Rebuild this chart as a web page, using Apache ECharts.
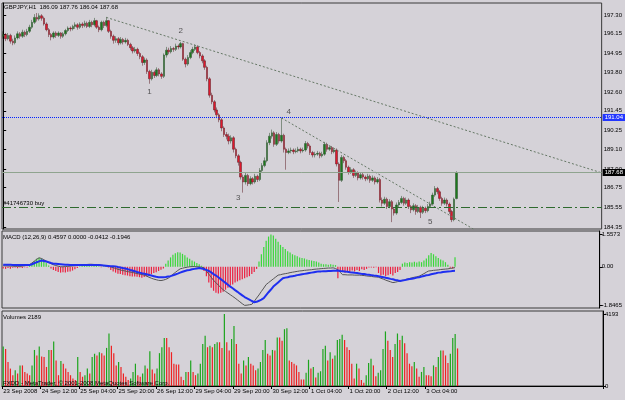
<!DOCTYPE html>
<html>
<head>
<meta charset="utf-8">
<script src="https://cdn.jsdelivr.net/npm/echarts@6/dist/echarts.min.js"></script>
<style>
  html, body { margin: 0; padding: 0; background: #d5d2d8; }
  #chart { width: 625px; height: 400px; }
</style>
</head>
<body>
<div id="chart"></div>
<script>
// GBPJPY H1, 23 Sep 2008 20:00 .. 3 Oct 2008 17:00 (190 bars)
const opens = [
  196.00,196.10,195.85,196.05,195.70,195.60,195.90,196.15,196.00,196.25,
  196.10,196.30,196.55,196.85,197.15,197.05,197.25,197.10,196.75,196.40,
  196.10,195.95,196.20,196.05,196.20,196.00,196.15,196.35,196.50,196.45,
  196.60,196.70,196.55,196.75,196.65,196.80,196.60,196.85,196.70,196.95,
  196.55,196.40,196.85,196.65,196.95,196.30,196.00,195.75,195.85,195.60,
  195.80,195.65,195.75,195.50,195.30,195.10,195.20,194.95,194.75,194.40,
  194.55,193.85,193.40,193.80,193.60,193.95,193.70,193.55,194.85,195.15,
  195.05,195.25,195.20,195.40,195.35,195.55,194.60,194.30,194.70,195.00,
  195.20,195.35,195.00,194.80,194.50,194.10,193.40,192.40,192.00,191.50,
  191.20,190.90,190.40,190.00,189.90,189.60,189.80,189.10,188.70,188.30,
  187.40,187.10,187.50,187.00,187.30,187.10,187.45,187.25,187.80,188.10,
  188.40,189.50,189.90,190.10,189.40,190.00,189.60,189.95,189.10,188.90,
  189.00,189.05,188.95,189.00,189.10,189.00,189.05,189.45,189.30,188.90,
  188.75,188.80,188.85,188.70,188.80,189.40,189.10,189.20,188.95,189.05,
  188.20,187.20,188.60,188.40,188.00,187.70,187.85,187.50,187.65,187.35,
  187.55,187.40,187.30,187.45,187.20,187.35,187.10,187.25,186.00,185.80,
  186.05,185.60,185.90,185.45,185.20,185.70,185.85,186.10,185.80,186.00,
  185.60,185.40,185.65,185.30,185.55,185.25,185.50,185.35,185.60,185.75,
  186.30,186.70,186.50,186.10,185.80,186.00,185.75,185.30,184.80,186.09
];
const closes = [
  196.10,195.85,196.05,195.70,195.60,195.90,196.15,196.00,196.25,196.10,
  196.30,196.55,196.85,197.15,197.05,197.25,197.10,196.75,196.40,196.10,
  195.95,196.20,196.05,196.20,196.00,196.15,196.35,196.50,196.45,196.60,
  196.70,196.55,196.75,196.65,196.80,196.60,196.85,196.70,196.95,196.55,
  196.40,196.85,196.65,196.95,196.30,196.00,195.75,195.85,195.60,195.80,
  195.65,195.75,195.50,195.30,195.10,195.20,194.95,194.75,194.40,194.55,
  193.85,193.40,193.80,193.60,193.95,193.70,193.55,194.85,195.15,195.05,
  195.25,195.20,195.40,195.35,195.55,194.60,194.30,194.70,195.00,195.20,
  195.35,195.00,194.80,194.50,194.10,193.40,192.40,192.00,191.50,191.20,
  190.90,190.40,190.00,189.90,189.60,189.80,189.10,188.70,188.30,187.40,
  187.10,187.50,187.00,187.30,187.10,187.45,187.25,187.80,188.10,188.40,
  189.50,189.90,190.10,189.40,190.00,189.60,189.95,189.10,188.90,189.00,
  189.05,188.95,189.00,189.10,189.00,189.05,189.45,189.30,188.90,188.75,
  188.80,188.85,188.70,188.80,189.40,189.10,189.20,188.95,189.05,188.20,
  187.20,188.60,188.40,188.00,187.70,187.85,187.50,187.65,187.35,187.55,
  187.40,187.30,187.45,187.20,187.35,187.10,187.25,186.00,185.80,186.05,
  185.60,185.90,185.45,185.20,185.70,185.85,186.10,185.80,186.00,185.60,
  185.40,185.65,185.30,185.55,185.25,185.50,185.35,185.60,185.75,186.30,
  186.70,186.50,186.10,185.80,186.00,185.75,185.30,184.80,186.05,187.68
];
const lows = [
  195.85,195.70,195.75,195.55,195.45,195.50,195.80,195.85,195.90,195.95,
  196.00,196.20,196.45,196.75,196.90,196.95,196.95,196.65,196.30,195.95,
  195.75,195.85,195.90,195.95,195.85,195.90,196.05,196.25,196.30,196.35,
  196.45,196.40,196.45,196.50,196.55,196.50,196.50,196.55,196.60,196.45,
  196.25,196.30,196.50,196.55,196.20,195.85,195.55,195.60,195.45,195.50,
  195.50,195.55,195.40,195.15,194.95,195.00,194.80,194.60,194.20,194.25,
  193.70,193.10,193.30,193.45,193.50,193.55,193.40,193.45,194.70,194.90,
  194.95,195.05,195.10,195.20,195.25,194.50,194.10,194.20,194.60,194.90,
  195.10,194.90,194.65,194.35,193.95,193.25,192.25,191.85,191.35,191.00,
  190.75,190.20,189.85,189.70,189.40,189.45,188.90,188.55,188.10,187.25,
  186.45,186.95,186.85,186.90,186.95,187.00,187.10,187.15,187.70,188.00,
  188.30,189.35,189.75,189.25,189.30,189.45,189.50,188.90,187.85,188.80,
  188.85,188.80,188.85,188.90,188.85,188.90,188.95,189.15,188.75,188.60,
  188.60,188.70,188.55,188.60,188.70,188.95,189.00,188.80,188.85,188.05,
  185.88,187.10,188.25,187.85,187.55,187.60,187.35,187.40,187.20,187.25,
  187.25,187.15,187.20,187.05,187.10,186.95,187.00,185.85,185.60,185.70,
  185.45,185.50,184.65,185.05,185.10,185.55,185.75,185.65,185.70,185.45,
  185.20,185.30,185.10,185.20,184.90,185.15,185.20,185.25,185.50,185.65,
  186.20,186.35,185.95,185.65,185.70,185.60,185.15,184.65,184.70,186.04
];
const highs = [
  196.30,196.20,196.20,196.15,195.85,196.05,196.30,196.25,196.40,196.35,
  196.45,196.70,197.00,197.35,197.42,197.40,197.35,197.20,196.85,196.50,
  196.20,196.30,196.30,196.30,196.25,196.25,196.45,196.60,196.60,196.70,
  196.85,196.80,196.85,196.85,196.95,196.90,197.00,196.95,197.12,197.00,
  196.65,196.95,196.95,197.18,197.00,196.40,196.10,196.00,195.95,195.95,
  195.90,195.90,195.85,195.60,195.40,195.35,195.30,195.05,194.85,194.70,
  194.65,193.95,193.95,193.90,194.10,194.05,193.80,194.95,195.35,195.30,
  195.40,195.35,195.55,195.50,195.65,195.60,194.70,194.85,195.15,195.35,
  195.50,195.45,195.10,194.90,194.60,194.20,193.50,192.55,192.10,191.65,
  191.30,191.00,190.50,190.15,190.05,189.95,189.90,189.20,188.80,188.40,
  187.55,187.65,187.60,187.45,187.40,187.60,187.55,187.95,188.25,188.60,
  189.65,190.10,190.30,190.20,190.15,190.10,191.01,190.05,189.20,189.15,
  189.20,189.15,189.15,189.25,189.20,189.20,189.60,189.55,189.40,189.00,
  188.95,189.00,188.95,188.95,189.55,189.50,189.35,189.30,189.20,189.15,
  188.30,188.75,188.70,188.50,188.10,188.00,187.95,187.80,187.75,187.70,
  187.65,187.50,187.60,187.55,187.50,187.45,187.40,187.35,186.15,186.20,
  186.15,186.05,186.00,185.55,185.85,186.00,186.25,186.20,186.15,186.10,
  185.70,185.80,185.75,185.70,185.65,185.65,185.60,185.75,185.90,186.45,
  186.85,186.80,186.60,186.20,186.15,186.10,185.85,185.40,186.15,187.76
];

// MACD (12,26,9) panel
const macdHist = [
  -0.08,-0.10,-0.06,-0.09,-0.05,-0.04,-0.07,-0.03,-0.06,-0.02,
  -0.04,0.05,0.15,0.28,0.38,0.43,0.40,0.30,0.18,0.06,
  -0.08,-0.15,-0.20,-0.25,-0.28,-0.26,-0.27,-0.24,-0.22,-0.18,
  -0.12,-0.06,0.03,0.05,0.04,0.06,0.05,0.03,0.04,0.05,
  0.02,-0.02,0.03,0.02,-0.04,-0.15,-0.22,-0.28,-0.33,-0.35,
  -0.38,-0.40,-0.42,-0.45,-0.47,-0.46,-0.48,-0.50,-0.52,-0.49,
  -0.45,-0.40,-0.35,-0.30,-0.26,-0.20,-0.14,-0.08,0.15,0.30,
  0.45,0.58,0.65,0.70,0.68,0.62,0.55,0.45,0.38,0.30,
  0.25,0.18,0.12,0.05,-0.20,-0.45,-0.75,-1.00,-1.15,-1.25,
  -1.28,-1.25,-1.20,-1.10,-1.00,-0.90,-0.85,-0.75,-0.70,-0.65,
  -0.60,-0.55,-0.50,-0.45,-0.35,-0.25,-0.10,0.25,0.60,0.95,
  1.25,1.45,1.55,1.50,1.35,1.20,1.05,0.95,0.85,0.75,
  0.68,0.60,0.55,0.50,0.45,0.42,0.40,0.35,0.32,0.30,
  0.28,0.25,0.20,0.15,0.12,0.12,0.10,0.12,0.10,0.08,
  -0.55,-0.25,-0.22,-0.28,-0.20,-0.25,-0.18,-0.22,-0.15,-0.20,
  -0.12,-0.15,-0.10,-0.04,-0.03,-0.05,-0.02,-0.30,-0.42,-0.38,
  -0.45,-0.40,-0.35,-0.42,-0.30,-0.25,-0.15,0.15,0.20,0.18,
  0.22,0.20,0.24,0.20,0.25,0.22,0.30,0.40,0.55,0.66,
  0.60,0.50,0.42,0.35,0.30,0.22,0.10,-0.05,-0.08,0.4597
];
const macdMain = [
  0.05,0.04,0.04,0.03,0.03,0.02,0.02,0.02,0.03,0.05,
  0.07,0.10,0.18,0.27,0.36,0.43,0.40,0.34,0.27,0.21,
  0.15,0.10,0.06,0.03,0.00,0.00,0.01,0.02,0.03,0.04,
  0.05,0.06,0.08,0.09,0.10,0.11,0.12,0.12,0.11,0.11,
  0.10,0.08,0.06,0.04,0.02,0.00,-0.04,-0.08,-0.12,-0.15,
  -0.18,-0.20,-0.23,-0.25,-0.27,-0.30,-0.32,-0.35,-0.37,-0.40,
  -0.45,-0.50,-0.55,-0.59,-0.62,-0.65,-0.66,-0.64,-0.60,-0.55,
  -0.45,-0.36,-0.27,-0.18,-0.10,-0.07,-0.04,-0.02,0.00,0.01,
  0.01,0.00,0.00,-0.02,-0.05,-0.20,-0.35,-0.50,-0.65,-0.76,
  -0.88,-0.99,-1.10,-1.18,-1.26,-1.34,-1.42,-1.50,-1.59,-1.68,
  -1.77,-1.85,-1.84,-1.82,-1.80,-1.66,-1.50,-1.35,-1.18,-1.02,
  -0.85,-0.76,-0.67,-0.58,-0.49,-0.40,-0.38,-0.35,-0.33,-0.31,
  -0.28,-0.26,-0.24,-0.22,-0.20,-0.19,-0.17,-0.16,-0.15,-0.14,
  -0.12,-0.11,-0.10,-0.09,-0.08,-0.07,-0.06,-0.06,-0.05,-0.08,
  -0.15,-0.27,-0.38,-0.38,-0.39,-0.39,-0.39,-0.40,-0.40,-0.40,
  -0.41,-0.42,-0.44,-0.45,-0.46,-0.48,-0.49,-0.50,-0.55,-0.59,
  -0.64,-0.68,-0.72,-0.76,-0.74,-0.71,-0.68,-0.65,-0.62,-0.59,
  -0.56,-0.53,-0.50,-0.48,-0.45,-0.39,-0.33,-0.26,-0.20,-0.19,
  -0.17,-0.16,-0.15,-0.13,-0.12,-0.11,-0.10,-0.08,-0.06,-0.0412
];
const macdSignal = [
  0.10,0.10,0.10,0.10,0.09,0.09,0.09,0.09,0.08,0.08,
  0.08,0.08,0.12,0.17,0.22,0.26,0.30,0.28,0.25,0.22,
  0.18,0.15,0.14,0.13,0.12,0.11,0.10,0.10,0.09,0.09,
  0.08,0.08,0.08,0.08,0.08,0.08,0.08,0.08,0.08,0.08,
  0.08,0.07,0.06,0.05,0.04,0.03,0.03,0.02,-0.01,-0.03,
  -0.06,-0.08,-0.11,-0.15,-0.18,-0.21,-0.25,-0.28,-0.31,-0.33,
  -0.36,-0.39,-0.42,-0.45,-0.48,-0.50,-0.50,-0.50,-0.49,-0.47,
  -0.45,-0.41,-0.37,-0.33,-0.28,-0.24,-0.20,-0.17,-0.15,-0.12,
  -0.10,-0.08,-0.06,-0.08,-0.11,-0.15,-0.20,-0.27,-0.35,-0.42,
  -0.50,-0.59,-0.68,-0.77,-0.86,-0.95,-1.03,-1.12,-1.20,-1.29,
  -1.37,-1.45,-1.51,-1.57,-1.64,-1.70,-1.68,-1.63,-1.57,-1.50,
  -1.36,-1.22,-1.09,-0.95,-0.85,-0.75,-0.65,-0.55,-0.52,-0.50,
  -0.47,-0.45,-0.43,-0.40,-0.38,-0.36,-0.34,-0.32,-0.30,-0.28,
  -0.26,-0.24,-0.22,-0.22,-0.21,-0.21,-0.20,-0.20,-0.19,-0.19,
  -0.18,-0.20,-0.21,-0.23,-0.24,-0.26,-0.27,-0.29,-0.30,-0.32,
  -0.34,-0.35,-0.37,-0.38,-0.40,-0.42,-0.43,-0.45,-0.48,-0.50,
  -0.53,-0.55,-0.58,-0.60,-0.63,-0.65,-0.68,-0.66,-0.64,-0.61,
  -0.59,-0.57,-0.55,-0.52,-0.50,-0.47,-0.44,-0.41,-0.39,-0.36,
  -0.33,-0.31,-0.28,-0.27,-0.25,-0.24,-0.23,-0.22,-0.20,-0.1946
];

// tick volumes
const volumes = [
  2300,2160,1400,1015,630,920,730,1200,1200,820,
  730,630,1200,2100,1780,2300,1720,1690,1110,2100,
  2100,2590,1490,630,1450,1300,1015,820,630,440,
  345,1690,820,540,630,1015,730,1690,1880,1780,
  1970,1915,1780,2220,3060,2350,1915,1200,1400,1110,
  730,540,345,440,820,1300,630,540,730,1200,
  1015,2030,960,730,1015,1915,2260,2800,2800,2260,
  1970,1300,1260,1260,540,345,820,820,1490,820,
  630,730,1300,2450,2930,2260,2350,2260,2450,2550,
  2550,2220,4193,2550,2070,2740,3500,2450,1300,730,
  1490,1200,1690,1300,1200,920,1015,1400,2100,2680,
  1880,1780,2100,2070,2830,2830,2640,3310,3370,1490,
  1400,1300,1200,820,380,380,770,1530,1015,1110,
  500,770,860,2160,2350,1490,1970,1590,1780,2680,
  2740,2990,2680,2260,2100,1300,440,1300,1015,345,
  190,630,1340,1590,1200,575,770,920,2160,3180,
  2640,2100,1690,2450,3060,2680,2930,2490,1915,1300,
  1150,1400,1015,540,820,1110,630,630,575,1200,
  1110,1690,2070,2070,1780,1340,1880,2800,3030,2189
];

// time axis labels (bar index -> text)
const tickIndex = [0, 16, 32, 48, 64, 80, 96, 112, 128, 144, 160, 176];
const tickLabels = ['23 Sep 2008', '24 Sep 12:00', '25 Sep 04:00', '25 Sep 20:00', '26 Sep 12:00',
  '29 Sep 04:00', '29 Sep 20:00', '30 Sep 12:00', '1 Oct 04:00', '1 Oct 20:00', '2 Oct 12:00', '3 Oct 04:00'];

// right-hand scale labels
const priceTicks = [184.35, 185.55, 186.75, 187.90, 189.10, 190.25, 191.45, 192.60, 193.80, 194.95, 196.15, 197.30];
const macdTicks = [-1.8465, 0, 1.5573];
const volumeTicks = [0, 4193];

// objects drawn on the chart
const alertPrice = 191.04;
const bidPrice = 187.68;
const orderPrice = 185.55;
const orderText = '#41746730 buy';
const trendA = [[43, 197.15], [249.5, 187.66]];
const trendB = [[116, 191.01], [196, 184.23]];
const waveNames = ['1', '2', '3', '4', '5'];
const waveBars = [61, 74, 98, 119, 178];
const wavePrices = [192.60, 196.32, 186.12, 191.37, 184.65];

const SLOTS = 250; // bar slots visible across the window
const FONT = 'Liberation Sans';
const cats = Array.from({ length: SLOTS }, (_, i) => String(i));
const last = closes.length - 1;

const chart = echarts.init(document.getElementById('chart'));

const hiddenCat = (g) => ({
  type: 'category', gridIndex: g, data: cats, boundaryGap: true,
  axisLine: { show: false }, axisTick: { show: false }, axisLabel: { show: false }, splitLine: { show: false }
});
const isTick = (i) => tickIndex.indexOf(i) >= 0;
const rightAxis = (g, min, max, ticks, fmt) => ({
  type: 'value', gridIndex: g, position: 'right', min: min, max: max,
  splitLine: { show: false },
  axisLine: { show: true, lineStyle: { color: '#000', width: 1 } },
  axisTick: { show: true, length: 3, customValues: ticks, lineStyle: { color: '#000' } },
  axisLabel: { customValues: ticks, formatter: fmt, fontSize: 6, fontFamily: FONT, color: '#000', margin: 2 }
});
const gridBox = { show: true, left: 2, right: 22, borderColor: '#3a3a3a', borderWidth: 1, backgroundColor: 'transparent' };
const txt = { fontSize: 6, fontWeight: 'normal', fontFamily: FONT, color: '#000' };

const option = {
  animation: false,
  backgroundColor: '#d5d2d8',
  title: [
    { text: 'GBPJPY,H1  ' + [opens[last], highs[last], lows[last], closes[last]].map(v => v.toFixed(2)).join(' '), left: 4, top: 4, padding: 0, textStyle: txt },
    { text: 'MACD (12,26,9) ' + macdHist[last].toFixed(4) + ' 0.0000 ' + macdMain[last].toFixed(4) + ' ' + macdSignal[last].toFixed(4), left: 3, top: 234, padding: 0, textStyle: txt },
    { text: 'Volumes ' + volumes[last], left: 3, top: 314, padding: 0, textStyle: txt },
    { text: 'FXDD - MetaTrader, © 2001-2008 MetaQuotes Software Corp.', left: 3, top: 380, padding: 0, textStyle: txt }
  ],
  grid: [
    Object.assign({}, gridBox, { top: 3, height: 226 }),
    Object.assign({}, gridBox, { top: 231, height: 77 }),
    Object.assign({}, gridBox, { top: 311, height: 75 })
  ],
  xAxis: [
    hiddenCat(0),
    hiddenCat(1),
    {
      type: 'category', gridIndex: 2, data: cats, boundaryGap: true,
      axisLine: { show: true, lineStyle: { color: '#000' } },
      axisTick: { show: true, length: 3, interval: isTick, lineStyle: { color: '#000' } },
      axisLabel: {
        show: true, interval: isTick, align: 'left', margin: 2,
        fontSize: 6, fontFamily: FONT, color: '#000',
        formatter: (v, i) => tickLabels[tickIndex.indexOf(i)] || ''
      },
      splitLine: { show: false }
    },
    { type: 'value', gridIndex: 0, min: -0.5, max: SLOTS - 0.5, show: false }
  ],
  yAxis: [
    rightAxis(0, 184.23, 198.03, priceTicks, v => v.toFixed(2)),
    rightAxis(1, -1.976, 1.716, macdTicks, v => (v === 0 ? '0.00' : v.toFixed(4))),
    rightAxis(2, 0, 4370, volumeTicks, v => String(v))
  ],
  series: [
    {
      type: 'candlestick', xAxisIndex: 0, yAxisIndex: 0, barWidth: 2,
      data: opens.map((o, i) => [o, closes[i], lows[i], highs[i]]),
      itemStyle: { color: '#1c7a1c', color0: '#e0182c', borderColor: '#2a4a2a', borderColor0: '#5a1a22', borderWidth: 0.5 },
      markLine: {
        silent: true, symbol: ['none', 'none'],
        data: [
          {
            yAxis: alertPrice, lineStyle: { color: '#0020ff', type: [1, 1], width: 1.2 },
            label: { show: true, position: 'end', distance: 1, formatter: alertPrice.toFixed(2), backgroundColor: '#2236ff', color: '#fff', fontSize: 6, fontFamily: FONT, padding: [1, 2, 0, 2] }
          },
          {
            yAxis: bidPrice, lineStyle: { color: '#8fa48f', type: 'solid', width: 1 },
            label: { show: true, position: 'end', distance: 1, formatter: bidPrice.toFixed(2), backgroundColor: '#000', color: '#fff', fontSize: 6, fontFamily: FONT, padding: [1, 2, 0, 2] }
          },
          {
            yAxis: orderPrice, lineStyle: { color: '#2e6a2e', type: [9, 3, 2, 3], width: 1 },
            label: { show: true, position: 'insideStartTop', distance: 1, formatter: orderText, color: '#000', fontSize: 6, fontFamily: FONT }
          }
        ]
      }
    },
    {
      type: 'line', xAxisIndex: 3, yAxisIndex: 0, data: trendA, symbol: 'none', silent: true,
      lineStyle: { color: '#667866', width: 1, type: [2, 2] }
    },
    {
      type: 'line', xAxisIndex: 3, yAxisIndex: 0, data: trendB, symbol: 'none', silent: true,
      lineStyle: { color: '#667866', width: 1, type: [2, 2] }
    },
    {
      type: 'scatter', xAxisIndex: 0, yAxisIndex: 0, symbolSize: 0, silent: true,
      data: waveBars.map((b, k) => [b, wavePrices[k]]),
      label: { show: true, position: 'inside', formatter: p => waveNames[p.dataIndex], fontSize: 8, fontFamily: FONT, color: '#333' }
    },
    {
      type: 'bar', xAxisIndex: 1, yAxisIndex: 1, data: macdHist, barWidth: 1.2,
      itemStyle: { color: p => (p.value >= 0 ? '#3ad83a' : '#ec2040') }
    },
    {
      type: 'line', xAxisIndex: 1, yAxisIndex: 1, data: macdMain, symbol: 'none',
      lineStyle: { color: '#555', width: 1 }
    },
    {
      type: 'line', xAxisIndex: 1, yAxisIndex: 1, data: macdSignal, symbol: 'none',
      lineStyle: { color: '#1f2ff0', width: 2 }
    },
    {
      type: 'bar', xAxisIndex: 2, yAxisIndex: 2, data: volumes, barWidth: 1.2,
      itemStyle: { color: p => (p.dataIndex === 0 || volumes[p.dataIndex] > volumes[p.dataIndex - 1] ? '#1da51d' : '#ee2222') }
    }
  ]
};

chart.setOption(option);
</script>
</body>
</html>
